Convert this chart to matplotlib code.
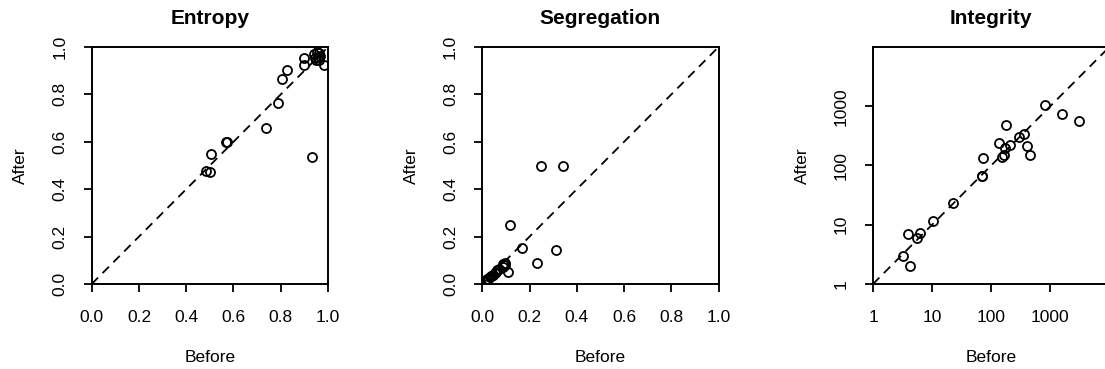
import matplotlib.pyplot as plt
from matplotlib.ticker import NullLocator, FixedLocator, FixedFormatter

plt.rcParams['font.family'] = ['Liberation Sans', 'DejaVu Sans']

# Entropy before / after
ent_before = [0.484, 0.50, 0.505, 0.567, 0.572, 0.736, 0.788, 0.807, 0.826, 0.90, 0.90,
              0.932, 0.94, 0.953, 0.964, 0.946, 0.956, 0.967, 0.95, 0.96, 0.984]
ent_after = [0.478, 0.474, 0.547, 0.598, 0.60, 0.66, 0.762, 0.865, 0.902, 0.954, 0.924,
             0.537, 0.97, 0.977, 0.975, 0.952, 0.956, 0.963, 0.945, 0.946, 0.924]

# Segregation before / after
seg_before = [0.249, 0.342, 0.117, 0.167, 0.314, 0.232, 0.11, 0.095, 0.088, 0.061, 0.054,
              0.044, 0.033, 0.021, 0.097, 0.011, 0.025, 0.035, 0.047, 0.058, 0.072, 0.089]
seg_after = [0.498, 0.498, 0.248, 0.152, 0.145, 0.087, 0.052, 0.08, 0.07, 0.06, 0.045,
             0.038, 0.03, 0.02, 0.09, 0.01, 0.02, 0.033, 0.04, 0.05, 0.062, 0.083]

# Integrity before / after (log scale)
int_before = [3.26, 4.3, 3.86, 5.5, 6.3, 10.5, 22.3, 69, 71, 72.9, 150.6, 163, 174, 208,
              138, 176, 292, 364, 403, 453, 813, 1560, 3060]
int_after = [3.0, 2.0, 7.1, 5.9, 7.3, 11.4, 23.2, 65.8, 66, 134.5, 138, 151, 194, 221,
             241, 476, 305, 343, 215, 153, 1064, 731, 557]

fig = plt.figure(figsize=(11.05, 3.69), dpi=100)

W = 1105.0
H = 369.0
aw = 236.3 / W
ah = 237.0 / H
bottom = 1 - 284.0 / H
lefts = [91.7 / W, 482.3 / W, 873.0 / W]

panels = [
    ('Entropy', ent_before, ent_after, False),
    ('Segregation', seg_before, seg_after, False),
    ('Integrity', int_before, int_after, True),
]

for left, (title, xb, ya, logscale) in zip(lefts, panels):
    ax = fig.add_axes([left, bottom, aw, ah])
    if logscale:
        ax.set_xscale('log')
        ax.set_yscale('log')
        lo, hi = 1, 10000
        ticks = [1, 10, 100, 1000]
        labels = ['1', '10', '100', '1000']
    else:
        lo, hi = 0, 1
        ticks = [0, 0.2, 0.4, 0.6, 0.8, 1.0]
        labels = ['0.0', '0.2', '0.4', '0.6', '0.8', '1.0']
    ax.plot([lo, hi], [lo, hi], color='black', linestyle=(0, (5, 3.5)), linewidth=1.3)
    ax.plot(xb, ya, linestyle='none', marker='o', markersize=6.5,
            markerfacecolor='none', markeredgecolor='black', markeredgewidth=1.3)
    ax.set_xlim(lo, hi)
    ax.set_ylim(lo, hi)
    for axis in (ax.xaxis, ax.yaxis):
        axis.set_major_locator(FixedLocator(ticks))
        axis.set_major_formatter(FixedFormatter(labels))
        axis.set_minor_locator(NullLocator())
    ax.tick_params(direction='out', length=5.5, width=1.3, labelsize=12.5)
    ax.tick_params(axis='x', pad=13)
    ax.tick_params(axis='y', pad=12)
    for lab in ax.get_yticklabels():
        lab.set_rotation(90)
        lab.set_va('center')
    for sp in ax.spines.values():
        sp.set_linewidth(1.4)
    ax.set_title(title, fontsize=15, fontweight='bold', y=1.122, va='center', pad=0)
    ax.set_xlabel('Before', fontsize=12.5, va='center')
    ax.xaxis.set_label_coords(0.5, -0.312)
    ax.set_ylabel('After', fontsize=12.5, va='center')
    ax.yaxis.set_label_coords(-0.30, 0.5)

fig.savefig('out.png', dpi=100)
